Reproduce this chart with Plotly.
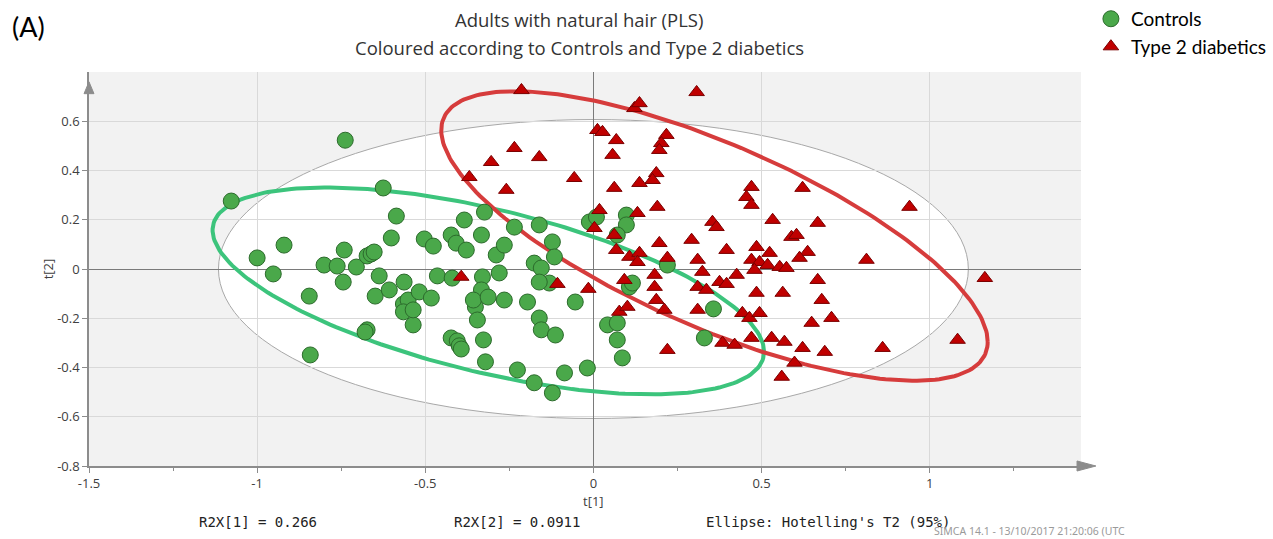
import numpy as np
import plotly.graph_objects as go

# PLS score coordinates, Controls
ctrl_t1 = [-1.077, -0.738, -0.625, -0.586, -1.000, -0.920, -0.952, -0.845, -0.842, -0.801,
           -0.762, -0.741, -0.744, -0.705, -0.673, -0.661, -0.652, -0.637, -0.649, -0.673,
           -0.679, -0.601, -0.607, -0.563, -0.565, -0.551, -0.565, -0.536, -0.536, -0.503,
           -0.518, -0.482, -0.476, -0.464, -0.423, -0.384, -0.408, -0.378, -0.420, -0.423,
           -0.405, -0.399, -0.393, -0.333, -0.324, -0.330, -0.333, -0.351, -0.357, -0.345,
           -0.321, -0.327, -0.313, -0.289, -0.265, -0.235, -0.280, -0.265, -0.226, -0.176,
           -0.176, -0.155, -0.161, -0.122, -0.116, -0.131, -0.161, -0.196, -0.161, -0.155,
           -0.113, -0.122, -0.086, -0.054, -0.018, -0.012, 0.009, 0.098, 0.098, 0.071,
           0.042, 0.071, 0.071, 0.086, 0.107, 0.116, 0.220, 0.357, 0.330]
ctrl_t2 = [0.276, 0.523, 0.329, 0.215, 0.045, 0.097, -0.020, -0.110, -0.349, 0.016,
           0.012, 0.077, -0.053, 0.008, 0.053, 0.061, 0.069, -0.028, -0.110, -0.247,
           -0.256, 0.126, -0.085, -0.053, -0.142, -0.126, -0.174, -0.227, -0.166, 0.122,
           -0.093, -0.118, 0.093, -0.028, 0.138, 0.199, 0.105, 0.077, -0.037, -0.280,
           -0.292, -0.312, -0.325, 0.138, 0.231, -0.032, -0.085, -0.154, -0.126, -0.207,
           -0.377, -0.288, -0.114, 0.057, 0.097, 0.170, -0.016, -0.126, -0.410, -0.462,
           0.024, 0.004, 0.179, 0.110, 0.049, -0.057, -0.053, -0.134, -0.199, -0.247,
           -0.268, -0.503, -0.422, -0.134, -0.402, 0.191, 0.211, 0.219, 0.179, 0.138,
           -0.227, -0.219, -0.288, -0.361, -0.073, -0.057, 0.016, -0.162, -0.280]

# PLS score coordinates, Type 2 diabetics
t2d_t1 = [-0.214, -0.369, -0.304, -0.235, -0.161, -0.259, -0.057, 0.012, 0.027, 0.068,
          0.057, 0.122, 0.137, 0.217, 0.202, 0.196, 0.187, 0.176, 0.137, 0.062,
          0.018, 0.003, 0.131, 0.190, 0.062, 0.068, 0.107, 0.137, 0.131, 0.196,
          0.220, -0.393, -0.107, -0.015, 0.092, 0.182, 0.182, 0.187, 0.211, 0.077,
          0.101, 0.220, 0.307, 0.470, 0.455, 0.470, 0.622, 0.533, 0.354, 0.366,
          0.667, 0.589, 0.604, 0.292, 0.396, 0.485, 0.524, 0.637, 0.613, 0.470,
          0.494, 0.518, 0.554, 0.574, 0.479, 0.310, 0.812, 0.324, 0.426, 0.375,
          0.396, 0.667, 0.310, 0.336, 0.485, 0.563, 0.679, 0.310, 0.443, 0.464,
          0.494, 0.708, 0.649, 0.384, 0.420, 0.470, 0.530, 0.568, 0.622, 0.688,
          0.860, 0.598, 0.560, 1.083, 1.164, 0.940]
t2d_t2 = [0.726, 0.373, 0.434, 0.491, 0.454, 0.321, 0.369, 0.564, 0.556, 0.523,
          0.463, 0.653, 0.673, 0.544, 0.511, 0.483, 0.389, 0.361, 0.349, 0.329,
          0.239, 0.166, 0.227, 0.252, 0.138, 0.077, 0.049, 0.065, 0.028, 0.105,
          0.045, -0.032, -0.061, -0.081, -0.045, -0.024, -0.073, -0.126, -0.166, -0.174,
          -0.154, -0.329, 0.718, 0.333, 0.292, 0.260, 0.329, 0.199, 0.191, 0.170,
          0.187, 0.130, 0.138, 0.118, 0.077, 0.089, 0.065, 0.069, 0.045, 0.037,
          0.028, 0.016, 0.008, 0.004, -0.004, 0.037, 0.037, -0.012, -0.024, -0.053,
          -0.061, -0.045, -0.073, -0.085, -0.097, -0.097, -0.126, -0.166, -0.179, -0.199,
          -0.179, -0.199, -0.219, -0.300, -0.308, -0.280, -0.280, -0.296, -0.321, -0.337,
          -0.321, -0.381, -0.438, -0.288, -0.037, 0.252]

# Hotelling's T2 (95%) ellipse semi-axes
HOTELLING_A, HOTELLING_B = 1.115, 0.607

# Group ellipses: centre, half-extent in t[1] and t[2], phase of the t[2] component
CTRL_ELLIPSE = dict(cx=-0.3125, cy=-0.089, w=0.82, h=0.42, phase=2.199)
T2D_ELLIPSE = dict(cx=0.36, cy=0.134, w=0.8125, h=0.588, phase=2.39)


def ellipse_xy(cx, cy, w, h, phase, n=240):
    t = np.linspace(0, 2 * np.pi, n)
    return cx + w * np.cos(t), cy + h * np.cos(t - phase)


GREEN_FILL, GREEN_EDGE = "#4aa84a", "#2c6b2c"
RED_FILL, RED_EDGE = "#c00000", "#7a0000"
AXIS_GREY = "#8c8c8c"
TICK_FONT = dict(family="Open Sans", size=13, color="#404040")

fig = go.Figure()

gx, gy = ellipse_xy(**CTRL_ELLIPSE)
fig.add_trace(go.Scatter(x=gx, y=gy, mode="lines", line=dict(color="#3cc47c", width=4),
                         hoverinfo="skip", showlegend=False))
rx, ry = ellipse_xy(**T2D_ELLIPSE)
fig.add_trace(go.Scatter(x=rx, y=ry, mode="lines", line=dict(color="#d63c3c", width=4),
                         hoverinfo="skip", showlegend=False))

fig.add_trace(go.Scatter(x=ctrl_t1, y=ctrl_t2, mode="markers", name="Controls",
                         marker=dict(symbol="circle", size=16, color=GREEN_FILL,
                                     line=dict(color=GREEN_EDGE, width=1))))
fig.add_trace(go.Scatter(x=t2d_t1, y=t2d_t2, mode="markers", name="Type 2 diabetics",
                         marker=dict(symbol="triangle-up", size=13.5, color=RED_FILL,
                                     line=dict(color=RED_EDGE, width=1))))

# white interior of the Hotelling ellipse, under the grid
fig.add_shape(type="circle", xref="x", yref="y",
              x0=-HOTELLING_A, x1=HOTELLING_A, y0=-HOTELLING_B, y1=HOTELLING_B,
              fillcolor="white", line=dict(color="#a8a8a8", width=1), layer="below")

# axis arrowheads
fig.add_shape(type="path", xref="paper", yref="paper",
              path="M 0.996 0.0127 L 1.015 0 L 0.996 -0.0127 Z",
              fillcolor=AXIS_GREY, line=dict(color=AXIS_GREY, width=1))
fig.add_shape(type="line", xref="paper", yref="paper", x0=1.0, x1=1.005, y0=0, y1=0,
              line=dict(color=AXIS_GREY, width=1.5))
fig.add_shape(type="path", xref="paper", yref="paper",
              path="M -0.005 0.945 L 0 0.975 L 0.005 0.945 Z",
              fillcolor=AXIS_GREY, line=dict(color=AXIS_GREY, width=1))

x_ticks = [-1.5, -1, -0.5, 0, 0.5, 1]
y_ticks = [-0.8, -0.6, -0.4, -0.2, 0, 0.2, 0.4, 0.6]


def tick_text(v):
    return f"{v:g}"


fig.update_xaxes(range=[-1.5, 1.45], tickmode="array", tickvals=x_ticks,
                 ticktext=[tick_text(v) for v in x_ticks], showgrid=True, gridcolor="#d9d9d9",
                 zeroline=True, zerolinecolor="#7a7a7a", zerolinewidth=1,
                 showline=True, linecolor=AXIS_GREY, linewidth=1.5,
                 ticks="outside", ticklen=5, tickcolor=AXIS_GREY, tickfont=TICK_FONT,
                 minor=dict(tickvals=[-1.25, -0.75, -0.25, 0.25, 0.75, 1.25], ticks="outside",
                            ticklen=3, tickcolor=AXIS_GREY, showgrid=False))
fig.update_yaxes(range=[-0.8, 0.8], tickmode="array", tickvals=y_ticks,
                 ticktext=[tick_text(v) for v in y_ticks], showgrid=True, gridcolor="#d9d9d9",
                 zeroline=True, zerolinecolor="#7a7a7a", zerolinewidth=1,
                 showline=True, linecolor=AXIS_GREY, linewidth=1.5,
                 ticks="outside", ticklen=5, tickcolor=AXIS_GREY, tickfont=TICK_FONT)

TITLE_FONT = dict(family="Open Sans", size=18.5, color="#333333")
MONO_FONT = dict(family="DejaVu Sans Mono", size=14, color="#222222")

annotations = [
    dict(text="(A)", x=-0.08, y=1.115, xanchor="left", yanchor="middle",
         font=dict(family="Lato", size=27, color="black")),
    dict(text="Adults with natural hair (PLS)", x=0.494, y=1.132, xanchor="center",
         yanchor="middle", font=TITLE_FONT),
    dict(text="Coloured according to Controls and Type 2 diabetics", x=0.494, y=1.061,
         xanchor="center", yanchor="middle", font=TITLE_FONT),
    dict(text="t[1]", x=0.509, y=-0.088, xanchor="center", yanchor="middle", font=TICK_FONT),
    dict(text="t[2]", x=-0.041, y=0.5, xanchor="center", yanchor="middle", textangle=-90,
         font=TICK_FONT),
    dict(text="R2X[1] = 0.266", x=0.109, y=-0.142, xanchor="left", yanchor="middle",
         font=MONO_FONT),
    dict(text="R2X[2] = 0.0911", x=0.366, y=-0.142, xanchor="left", yanchor="middle",
         font=MONO_FONT),
    dict(text="Ellipse: Hotelling's T2 (95%)", x=0.620, y=-0.142, xanchor="left",
         yanchor="middle", font=MONO_FONT),
    dict(text="SIMCA 14.1 - 13/10/2017 21:20:06 (UTC", x=0.850, y=-0.164, xanchor="left",
         yanchor="middle", font=dict(family="Noto Sans", size=10.5, color="#9a9a9a")),
]
for a in annotations:
    a.update(xref="paper", yref="paper", showarrow=False)

fig.update_layout(
    width=1273, height=539,
    margin=dict(l=89, r=192, t=72, b=73, autoexpand=False),
    paper_bgcolor="white", plot_bgcolor="#f2f2f2",
    annotations=annotations,
    legend=dict(x=1.010, y=1.183, xanchor="left", yanchor="top",
                font=dict(family="Lato", size=19, color="black"),
                bgcolor="rgba(0,0,0,0)", tracegroupgap=0, itemwidth=30),
)

fig.write_html("out.html")
